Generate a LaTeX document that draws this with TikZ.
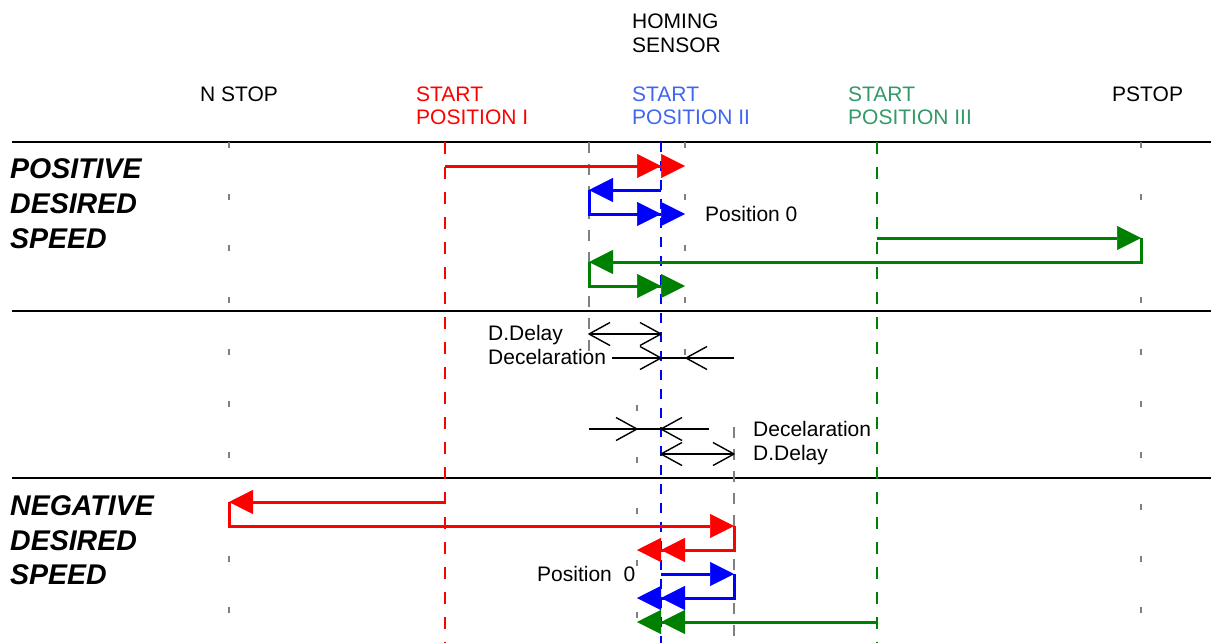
\documentclass[tikz,border=0pt]{standalone}
\usepackage{fontspec}
\setmainfont{Liberation Sans}
\usetikzlibrary{arrows.meta}
\definecolor{tblue}{HTML}{3F66F0}
\definecolor{tgreen}{HTML}{339966}
\definecolor{agreen}{HTML}{008000}
\definecolor{tick}{HTML}{808080}
\tikzset{
  lbl/.style={anchor=base west,inner sep=0pt,font=\fontsize{21}{24}\selectfont},
  big/.style={anchor=base west,inner sep=0pt,font=\fontsize{28.5}{34}\selectfont\bfseries\itshape},
  sep/.style={line width=2pt,black},
  sparse/.style={line width=2pt,tick,dash pattern=on 6pt off 45.7pt},
  gdash/.style={line width=2pt,tick,dash pattern=on 11pt off 11pt},
  flow/.style={line width=3pt},
  stri/.style={-{Triangle[length=24pt,width=24pt,line width=0.5pt]}},
  dtri/.style={-{Triangle[length=24pt,width=24pt,line width=0.5pt]Triangle[length=24pt,width=24pt,line width=0.5pt]}},
  thin/.style={line width=1.4pt,line join=round},
}
% open V heads: #1 = tip coordinate
\newcommand\vright[1]{\draw[thin] #1 ++(-21,-11.5) -- ++(21,11.5) -- ++(-21,11.5);}
\newcommand\vleft[1]{\draw[thin] #1 ++(21,-11.5) -- ++(-21,11.5) -- ++(21,11.5);}
\begin{document}
\begin{tikzpicture}[x=1pt,y=-1pt]
\useasboundingbox (0,0) rectangle (1211,643);

% separators
\draw[sep] (12,142) -- (1211,142);
\draw[sep] (12,311) -- (1211,311);
\draw[sep] (12,478) -- (1211,478);

% sparse grey tick lines
\draw[sparse] (229,142) -- (229,643);
\draw[sparse] (1141,142) -- (1141,643);
\draw[sparse] (685,142) -- (685,356);
\draw[sparse] (637,405) -- (637,643);
% grey dashed lines
\draw[gdash] (589,142) -- (589,356);
\draw[gdash] (734,427) -- (734,643);

% coloured dashed lines
\draw[red,line width=2pt,dash pattern=on 12pt off 13pt] (445,142) -- (445,643);
\draw[agreen,line width=2pt,dash pattern=on 12pt off 13pt] (877,142) -- (877,643);
\draw[blue,line width=1.5pt,dash pattern=on 10pt off 9pt] (661,142) -- (661,643);

% header texts
\node[lbl] (nstop) at (200,101) {N STOP};
\node[lbl,red] (sp1a) at (416,101) {START};
\node[lbl,red] (sp1b) at (416,124) {POSITION I};
\node[lbl] (hom1) at (632,28) {HOMING};
\node[lbl] (hom2) at (632,52) {SENSOR};
\node[lbl,tblue] (sp2a) at (632,101) {START};
\node[lbl,tblue] (sp2b) at (632,124) {POSITION II};
\node[lbl,tgreen] (sp3a) at (848,101) {START};
\node[lbl,tgreen] (sp3b) at (848,124) {POSITION III};
\node[lbl] (pstop) at (1112,101) {PSTOP};

% side labels
\node[big] (pos1) at (10,178) {POSITIVE};
\node[big] (pos2) at (10,213) {DESIRED};
\node[big] (pos3) at (10,248) {SPEED};
\node[big] (neg1) at (10,515) {NEGATIVE};
\node[big] (neg2) at (10,550) {DESIRED};
\node[big] (neg3) at (10,584) {SPEED};

% positive section
\draw[flow,red,dtri] (445,166) -- (685,166);
\draw[flow,blue,stri] (661,190) -- (589,190);
\draw[flow,blue,dtri] (589,190) -- (589,214) -- (685,214);
\node[lbl] (p0a) at (705,221) {Position 0};
\draw[flow,agreen,stri] (877,238) -- (1141,238);
\draw[flow,agreen,stri] (1141,238) -- (1141,262) -- (589,262);
\draw[flow,agreen,dtri] (589,262) -- (589,286) -- (685,286);

% middle section
\node[lbl] (dd1) at (488,340.5) {D.Delay};
\node[lbl] (dc1) at (488,364.5) {Decelaration};
\draw[thin] (589,334) -- (661,334);
\vleft{(589,334)}
\vright{(661,334)}
\draw[thin] (612,358) -- (734,358);
\vright{(661,358)}
\vleft{(686,358)}

\draw[thin] (589,429) -- (709,429);
\vright{(637,429)}
\vleft{(661,429)}
\draw[thin] (661,454) -- (734,454);
\vleft{(661,454)}
\vright{(734,454)}
\node[lbl] (dc2) at (753,436.5) {Decelaration};
\node[lbl] (dd2) at (753,460.5) {D.Delay};

% negative section
\draw[flow,red,stri] (445,502) -- (229,502);
\draw[flow,red,stri] (229,502) -- (229,526) -- (734,526);
\draw[flow,red,dtri] (734,526) -- (734,550) -- (637,550);
\draw[flow,blue,stri] (661,574) -- (734,574);
\draw[flow,blue,dtri] (734,574) -- (734,598) -- (637,598);
\draw[flow,agreen,dtri] (877,622) -- (637,622);
\node[lbl] (p0b) at (537,581.5) {Position\ \ 0};
\end{tikzpicture}
\end{document}
